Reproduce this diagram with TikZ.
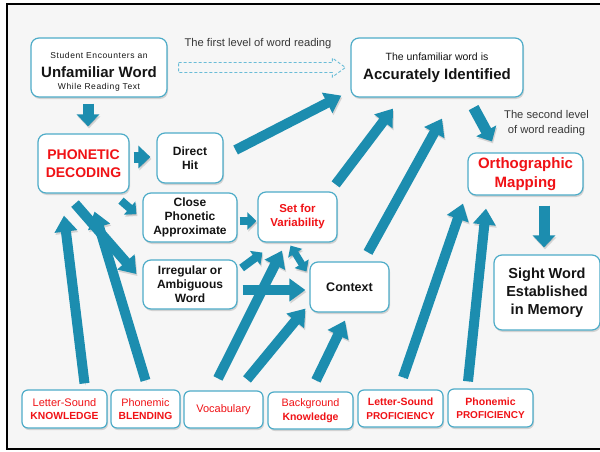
\documentclass[tikz,border=0pt]{standalone}
\usepackage{fontspec}
\setmainfont{Liberation Sans}
\newfontfamily\widesans[LetterSpace=7]{Liberation Sans}
\usetikzlibrary{calc,shadows,arrows.meta}

\definecolor{flowteal}{RGB}{28,141,175}
\definecolor{boxline}{RGB}{78,172,200}
\definecolor{dashline}{RGB}{105,188,215}
\definecolor{hotred}{RGB}{240,18,22}
\definecolor{paper}{RGB}{246,246,246}
\definecolor{ink}{RGB}{20,20,20}
\definecolor{note}{RGB}{55,55,55}

\tikzset{
  box/.style={draw=boxline, line width=1.2pt, fill=white, rounded corners=8pt, align=center, inner sep=0pt, text=ink,
    drop shadow={shadow xshift=1pt, shadow yshift=-2pt, opacity=0.3}},
  tag/.style={box, rounded corners=6pt, text=hotred},
  shade under/.style={preaction={draw=black!70, opacity=0.2, transform canvas={xshift=1pt, yshift=-2pt}}},
  flow/.style={shade under, draw=flowteal, line width=10pt, -{Triangle[width=22pt,length=16pt]}},
  stub/.style={shade under, draw=flowteal, line width=11pt, -{Triangle[width=22pt,length=12pt]}},
  nub/.style={shade under, draw=flowteal, line width=8pt, -{Triangle[width=17pt,length=9pt]}},
  twoway/.style={shade under, draw=flowteal, line width=7pt, {Triangle[width=16pt,length=9pt]}-{Triangle[width=16pt,length=9pt]}},
}

\begin{document}
\begin{tikzpicture}[x=1pt, y=-1pt]
\useasboundingbox (0,0) rectangle (600,452);
\fill[paper] (7,4) rectangle (600,449);
\draw[line width=2.5pt] (600,4) -- (7,4) -- (7,449) -- (600,449);

% boxes
\node[box, minimum width=136pt, minimum height=59pt, font=\fontsize{15}{17}\selectfont] (unf) at (99,67.5)
  {\rule{0pt}{14pt}{\fontsize{8.5}{10}\widesans Student Encounters an}\\[2pt]
   \textbf{Unfamiliar Word}\\[-5pt]
   {\fontsize{8.5}{10}\widesans While Reading Text}};
\node[box, minimum width=172pt, minimum height=59pt, font=\fontsize{15}{17}\selectfont] (acc) at (437,67.5)
  {{\fontsize{10.5}{12}\selectfont The unfamiliar word is}\\[2pt]
   \textbf{Accurately Identified}};
\node[box, text=hotred, minimum width=91pt, minimum height=59pt, font=\fontsize{14}{18.5}\selectfont\bfseries] (pd) at (83.5,163.5) {PHONETIC\\DECODING};
\node[box, minimum width=66pt, minimum height=50pt, font=\fontsize{12}{14}\selectfont\bfseries] (dh) at (190,158) {Direct\\Hit};
\node[box, minimum width=94pt, minimum height=49pt, font=\fontsize{12}{14}\selectfont\bfseries] (cpa) at (190,217.5) {Close\\Phonetic\\Approximate};
\node[box, minimum width=94pt, minimum height=49pt, font=\fontsize{12}{14}\selectfont\bfseries] (irr) at (190,284.5) {Irregular or\\Ambiguous\\Word};
\node[box, text=hotred, minimum width=79pt, minimum height=50pt, font=\fontsize{11.5}{14}\selectfont\bfseries] (sfv) at (297.5,217) {Set for\\Variability};
\node[box, minimum width=79pt, minimum height=50pt, font=\fontsize{12.5}{14}\selectfont\bfseries] (ctx) at (349.5,287) {Context};
\node[box, text=hotred, minimum width=115pt, minimum height=42pt, font=\fontsize{15}{19}\selectfont\bfseries] (orth) at (525.5,174) {Orthographic\\Mapping};
\node[box, minimum width=106pt, minimum height=75pt, font=\fontsize{14.5}{18}\selectfont\bfseries] (sight) at (547,292.5) {Sight Word\\Established\\in Memory};

% bottom row
\node[tag, minimum width=85pt, minimum height=38pt, font=\fontsize{11}{13.5}\selectfont] (lsk) at (64.5,409)
  {Letter-Sound\\{\fontsize{10.3}{11}\selectfont\bfseries KNOWLEDGE}};
\node[tag, minimum width=69pt, minimum height=38pt, font=\fontsize{10.8}{13.5}\selectfont] (pb) at (145.5,409)
  {Phonemic\\{\fontsize{10.3}{11}\selectfont\bfseries BLENDING}};
\node[tag, minimum width=79pt, minimum height=37pt, font=\fontsize{11}{13.5}\selectfont] (voc) at (223.5,409.5) {Vocabulary};
\node[tag, minimum width=85pt, minimum height=37pt, font=\fontsize{10.8}{13.5}\selectfont] (bgk) at (310.5,410.5)
  {Background\\{\fontsize{10.5}{11}\selectfont\bfseries Knowledge}};
\node[tag, minimum width=85pt, minimum height=37pt, font=\fontsize{10.5}{13.5}\selectfont\bfseries] (lsp) at (400.5,408.5)
  {Letter-Sound\\{\fontsize{10}{11}\selectfont PROFICIENCY}};
\node[tag, minimum width=85pt, minimum height=38pt, font=\fontsize{10.5}{13.5}\selectfont\bfseries] (pp) at (490.5,408)
  {Phonemic\\{\fontsize{10}{11}\selectfont PROFICIENCY}};

% notes
\node[text=note, font=\fontsize{11.2}{13}\selectfont] (lvl1) at (258,44) {The first level of word reading};
\node[text=note, align=center, font=\fontsize{11.2}{15.5}\selectfont] (lvl2) at (546.5,123) {The second level\\of word reading};

% first level (dashed hollow arrow)
\coordinate (lvlstart) at ($(unf.east)+(11,0)$);
\coordinate (lvlend) at ($(acc.west)+(-5,0)$);
\draw[dashline, line width=0.9pt, dash pattern=on 3pt off 2pt] ($(lvlstart)+(0,-5)$) -- ($(lvlend)+(-13,-5)$)
  -- ($(lvlend)+(-13,-9.5)$) -- (lvlend) -- ($(lvlend)+(-13,9.5)$) -- ($(lvlend)+(-13,5)$) -- ($(lvlstart)+(0,5)$) -- cycle;

% arrows
\draw[stub] ($(unf.south)+(-11,6)$) -- ($(pd.north)+(4.5,-7)$);
\draw[stub] ($(pd.east)+(4,-6.5)$) -- ($(dh.west)+(-6,-1)$);
\draw[flow] ($(dh.east)+(12,-8)$) -- ($(acc.south west)+(-9,-2)$);
\draw[nub] ($(pd.south)+(37.5,7)$) -- ($(cpa.west)+(-6,-3.5)$);
\draw[flow] ($(lsk.north)+(20,-6)$) -- ($(pd.south)+(-19.5,22)$);
\draw[flow] ($(pb.north)+(0,-9)$) -- ($(pd.south)+(11,18)$);
\draw[flow] ($(pd.south)+(-8.5,10)$) -- ($(irr.west)+(-6,-10.5)$);
\draw[nub] ($(cpa.east)+(2,3.5)$) -- ($(sfv.west)+(-1,4)$);
\draw[nub] ($(irr.east)+(4,-16.5)$) -- ($(sfv.south west)+(5,10)$);
\draw[flow] ($(voc.north)+(-5.5,-12)$) -- ($(sfv.south)+(-15.5,8)$);
\draw[flow] ($(irr.east)+(5,5.5)$) -- ($(ctx.west)+(-4,3)$);
\draw[twoway] ($(sfv.south)+(-7,3)$) -- ($(ctx.north west)+(-3,10)$);
\draw[flow] ($(voc.north)+(23.5,-11)$) -- ($(ctx.south west)+(-4,-4)$);
\draw[flow] ($(bgk.north)+(5.5,-11)$) -- ($(ctx.south)+(-4.5,8)$);
\draw[flow] ($(sfv.north east)+(-2,-7)$) -- ($(acc.south)+(-44,11)$);
\draw[flow] ($(ctx.north)+(18.5,-9)$) -- ($(acc.south)+(5,21)$);
\draw[stub] ($(acc.south east)+(-50,10)$) -- ($(orth.north)+(-33.5,-11)$);
\draw[stub] ($(orth.south)+(18.5,10)$) -- ($(sight.north)+(-3,-7)$);
\draw[flow] ($(lsp.north)+(2.5,-12)$) -- ($(orth.south)+(-62.5,8)$);
\draw[flow] ($(pp.north)+(-22.5,-7)$) -- ($(orth.south)+(-39.5,13)$);
\end{tikzpicture}
\end{document}
